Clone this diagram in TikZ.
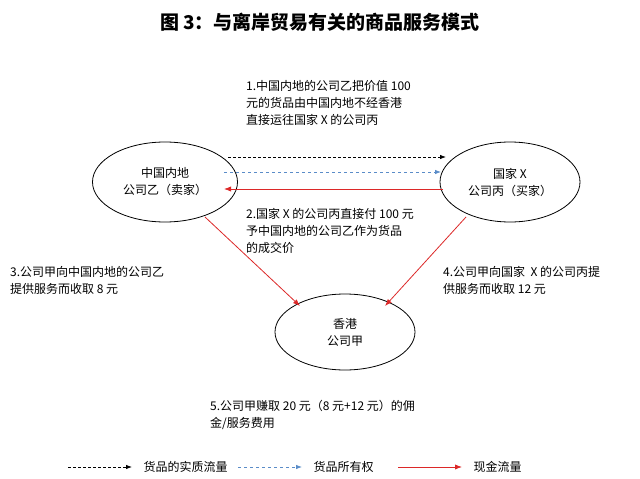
\documentclass[tikz,border=0pt]{standalone}
\usepackage{fontspec}
\setmainfont{Liberation Sans}
\newfontfamily\cjk{Noto Sans CJK SC}
\usetikzlibrary{arrows.meta,positioning,shapes.geometric}
\definecolor{cashred}{RGB}{220,40,40}
\definecolor{ownblue}{RGB}{90,140,200}
\begin{document}
\begin{tikzpicture}
  [x=1pt,y=-1pt,
   every node/.style={font=\cjk\fontsize{12}{17}\selectfont},
   firm/.style={ellipse,draw,thick,align=center,minimum width=145pt,minimum height=80pt},
   note/.style={align=left,anchor=north west,inner sep=0pt},
   goods/.style={-{Latex[length=6pt]},densely dashed,thick},
   owner/.style={-{Latex[length=6pt]},dashed,thick,ownblue},
   cash/.style={-{Latex[length=7pt]},thick,cashred}]
  \useasboundingbox (0,0) rectangle (640,479);
  \node[font=\cjk\bfseries\fontsize{19}{22}\selectfont] (title) at (320,22) {图 3：与离岸贸易有关的商品服务模式};
  \node[firm] (seller) at (165,182) {中国内地\\公司乙（卖家）};
  \node[firm,minimum width=140pt] (buyer) at (510,182) {国家 X\\公司丙（买家）};
  \node[firm,minimum width=140pt,minimum height=76pt] (hk) at (345,332) {香港\\公司甲};
  % flows between seller and buyer
  \coordinate (s1) at (228,157); \coordinate (b1) at (446,157);
  \coordinate (s2) at (224,172); \coordinate (b2) at (441,172);
  \coordinate (s3) at (224,189); \coordinate (b3) at (443,189);
  \draw[goods] (s1) -- (b1);
  \draw[owner] (s2) -- (b2);
  \draw[cash] (b3) -- (s3);
  \coordinate (s4) at (205,217); \coordinate (h4) at (300,306);
  \coordinate (b4) at (466,217); \coordinate (h5) at (385,306);
  \draw[cash] (s4) -- (h4);
  \draw[cash] (b4) -- (h5);
  % notes
  \node[note] (n1) at (246,80) {1.中国内地的公司乙把价值 100\\元的货品由中国内地不经香港\\直接运往国家 X 的公司丙};
  \node[note] (n2) at (246,208) {2.国家 X 的公司丙直接付 100 元\\予中国内地的公司乙作为货品\\的成交价};
  \node[note] (n3) at (10,266) {3.公司甲向中国内地的公司乙\\提供服务而收取 8 元};
  \node[note] (n4) at (443,266) {4.公司甲向国家 \ X 的公司丙提\\供服务而收取 12 元};
  \node[note] (n5) at (210,400) {5.公司甲赚取 20 元（8 元+12 元）的佣\\金/服务费用};
  % legend
  \coordinate (l1a) at (68,467); \coordinate (l1b) at (132,467);
  \coordinate (l2a) at (238,467); \coordinate (l2b) at (302,467);
  \coordinate (l3a) at (398,467); \coordinate (l3b) at (462,467);
  \draw[goods] (l1a) -- (l1b);
  \draw[owner] (l2a) -- (l2b);
  \draw[cash] (l3a) -- (l3b);
  \node[anchor=west] (k1) at (140,467) {货品的实质流量};
  \node[anchor=west] (k2) at (310,467) {货品所有权};
  \node[anchor=west] (k3) at (470,467) {现金流量};
\end{tikzpicture}
\end{document}
